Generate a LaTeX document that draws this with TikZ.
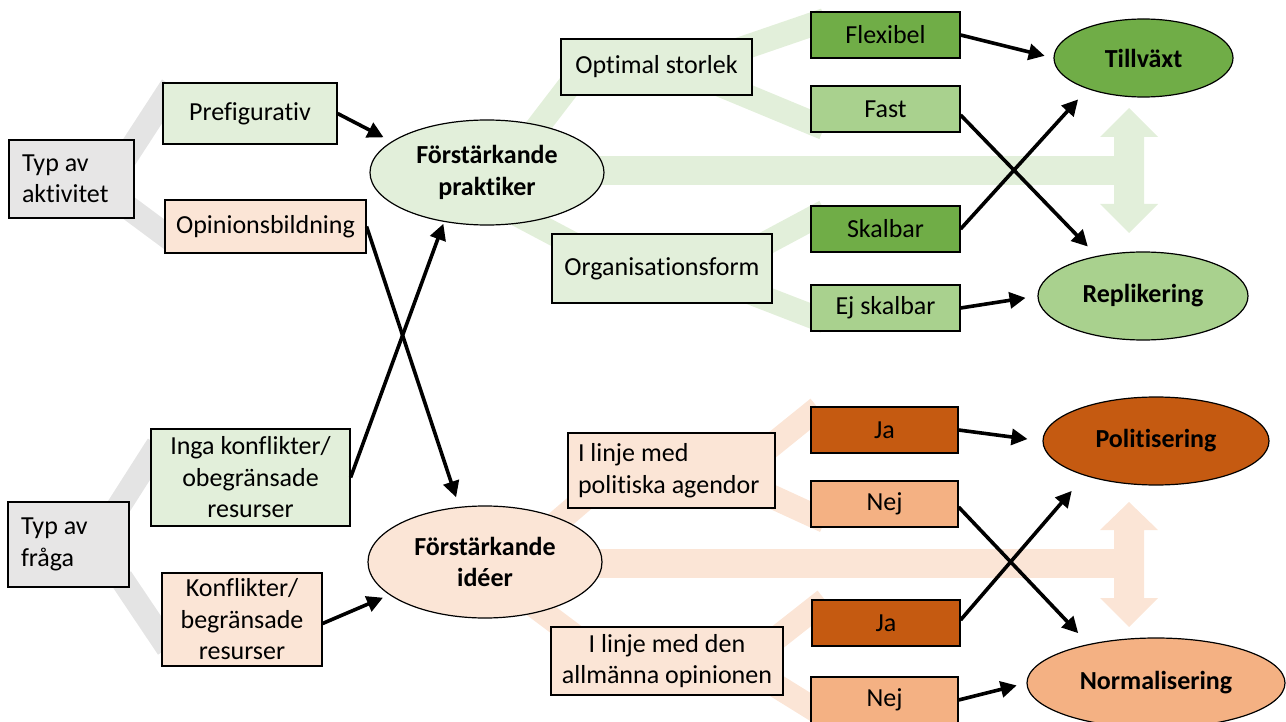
\documentclass[tikz,border=0pt]{standalone}
\usepackage{fontspec}
\setmainfont{Carlito}[Ligatures={NoCommon}]
\usetikzlibrary{arrows.meta,shapes.geometric,backgrounds}
\definecolor{greyF}{HTML}{E7E6E6}
\definecolor{greyB}{HTML}{E4E4E4}
\definecolor{gLight}{HTML}{E2EFDA}
\definecolor{gMid}{HTML}{A9D18E}
\definecolor{gDark}{HTML}{70AD47}
\definecolor{oLight}{HTML}{FBE5D6}
\definecolor{oMid}{HTML}{F4B183}
\definecolor{oDark}{HTML}{C55A11}
\begin{document}
\begin{tikzpicture}[x=1pt,y=-1pt,font=\fontsize{26}{31.5}\selectfont,
  box/.style={draw,line width=1.2pt,inner sep=0pt,align=center},
  ell/.style={draw,ellipse,line width=1.2pt,inner sep=0pt,align=center,font=\fontsize{26}{31.5}\selectfont\bfseries},
  band/.style={line width=24pt},
  arr/.style={line width=3.6pt,-{Triangle[length=16pt,width=16pt]}}]
\useasboundingbox (0,0) rectangle (1286,722);
% left column
\node[box,fill=greyF,align=flush left,text width=99pt,inner xsep=13pt,minimum height=78pt] (typA) at (71.5,179) {Typ av\\aktivitet};
\node[box,fill=gLight,minimum width=174pt,minimum height=61pt] (pref) at (250,113.5) {Prefigurativ};
\node[box,fill=oLight,minimum width=201pt,minimum height=53pt] (opin) at (265.5,226.5) {Opinionsbildning};
\node[box,fill=greyF,align=flush left,text width=95pt,inner xsep=13pt,minimum height=85pt] (typF) at (68.5,544.5) {Typ av\\fråga};
\node[box,fill=gLight,minimum width=199pt,minimum height=97pt] (inga) at (250.5,477.5) {Inga konflikter/\\obegränsade\\resurser};
\node[box,fill=oLight,minimum width=160pt,minimum height=93pt] (konf) at (242,619.5) {Konflikter/\\begränsade\\resurser};
% ellipses middle
\node[ell,fill=gLight,minimum width=234pt,minimum height=105pt] (fp) at (487,172.5) {Förstärkande\\praktiker};
\node[ell,fill=oLight,minimum width=234pt,minimum height=112pt] (fi) at (485,562) {Förstärkande\\idéer};
% second level
\node[box,fill=gLight,minimum width=191pt,minimum height=56pt] (opt) at (656.5,67) {Optimal storlek};
\node[box,fill=gLight,minimum width=220pt,minimum height=69pt] (org) at (662,268.5) {Organisationsform};
\node[box,fill=oLight,align=flush left,text width=187pt,inner xsep=10pt,minimum height=75pt] (pol) at (671.5,470.5) {I linje med\\politiska agendor};
\node[box,fill=oLight,minimum width=232pt,minimum height=68pt] (allm) at (667,661) {I linje med den\\allmänna opinionen};
% third level
\node[box,fill=gDark,minimum width=149pt,minimum height=46pt] (flex) at (885.5,35) {Flexibel};
\node[box,fill=gMid,minimum width=149pt,minimum height=46pt] (fast) at (885.5,109) {Fast};
\node[box,fill=gDark,minimum width=149pt,minimum height=46pt] (skal) at (885.5,229) {Skalbar};
\node[box,fill=gMid,minimum width=149pt,minimum height=46pt] (ejsk) at (885.5,308) {Ej skalbar};
\node[box,fill=oDark,minimum width=147pt,minimum height=46pt] (ja1) at (884.5,430) {Ja};
\node[box,fill=oMid,minimum width=147pt,minimum height=46pt] (nej1) at (884.5,504) {Nej};
\node[box,fill=oDark,minimum width=148pt,minimum height=46pt] (ja2) at (886,623) {Ja};
\node[box,fill=oMid,minimum width=147pt,minimum height=46pt] (nej2) at (884.5,700) {Nej};
% outcomes
\node[ell,fill=gDark,minimum width=179pt,minimum height=78pt] (till) at (1143.5,58) {Tillväxt};
\node[ell,fill=gMid,minimum width=210pt,minimum height=88pt] (repl) at (1143,296) {Replikering};
\node[ell,fill=oDark,minimum width=226pt,minimum height=88pt] (polit) at (1156,441) {Politisering};
\node[ell,fill=oMid,minimum width=258pt,minimum height=90pt] (norm) at (1156,683) {Normalisering};
% background bands
\begin{scope}[on background layer]
  \draw[band,greyB] (120,166) -- (172,86);
  \draw[band,greyB] (118,200) -- (176,243);
  \draw[band,greyB] (114,514) -- (158,445);
  \draw[band,greyB] (121,578) -- (168,648);
  \draw[band,gLight] (520,150) -- (576,77);
  \draw[band,gLight] (720,56) -- (825,20);
  \draw[band,gLight] (718,84) -- (824,128);
  \draw[band,gLight] (490,200) -- (575,245);
  \draw[band,gLight] (740,257) -- (825,211.5);
  \draw[band,gLight] (745,290.5) -- (825,321.5);
  \draw[line width=29pt,gLight] (560,170.5) -- (1114,170.5);
  \fill[gLight] (1129,108) -- (1158,137) -- (1144,137) -- (1144,204) -- (1158,204) -- (1129,233) -- (1100,204) -- (1114,204) -- (1114,137) -- (1100,137) -- cycle;
  \draw[band,oLight] (525,550) -- (595,490);
  \draw[band,oLight] (740,471) -- (818,408);
  \draw[band,oLight] (740,482) -- (825,521);
  \draw[band,oLight] (500,580) -- (580,640);
  \draw[band,oLight] (750,659) -- (825,600);
  \draw[band,oLight] (750,669.5) -- (825,716);
  \draw[line width=29pt,oLight] (560,563.5) -- (1114,563.5);
  \fill[oLight] (1129,502) -- (1158,530) -- (1144,530) -- (1144,598) -- (1158,598) -- (1129,627) -- (1100,598) -- (1114,598) -- (1114,530) -- (1100,530) -- cycle;
\end{scope}
% arrows
\draw[arr,shorten >=9pt] (pref.east) -- (fp.162);
\draw[arr,shorten >=10pt] (opin.east) -- (fi.115);
\draw[arr,shorten >=2pt] (inga.east) -- (fp.229);
\draw[arr,shorten >=7pt] ([yshift=-4pt]konf.east) -- (fi.199);
\draw[arr,shorten >=9pt] (flex.east) -- (till.west);
\draw[arr,shorten >=13pt] ([yshift=-6pt]fast.east) -- (repl.139);
\draw[arr,shorten >=14pt] (skal.east) -- (till.209);
\draw[arr,shorten >=12pt] (ejsk.east) -- (repl.west);
\draw[arr,shorten >=15pt] (ja1.east) -- (polit.west);
\draw[arr,shorten >=15pt] ([yshift=-3pt]nej1.east) -- (norm.150);
\draw[arr,shorten >=20pt] ([yshift=3pt]ja2.east) -- (polit.206);
\draw[arr,shorten >=10pt] (nej2.east) -- (norm.west);
\end{tikzpicture}
\end{document}
